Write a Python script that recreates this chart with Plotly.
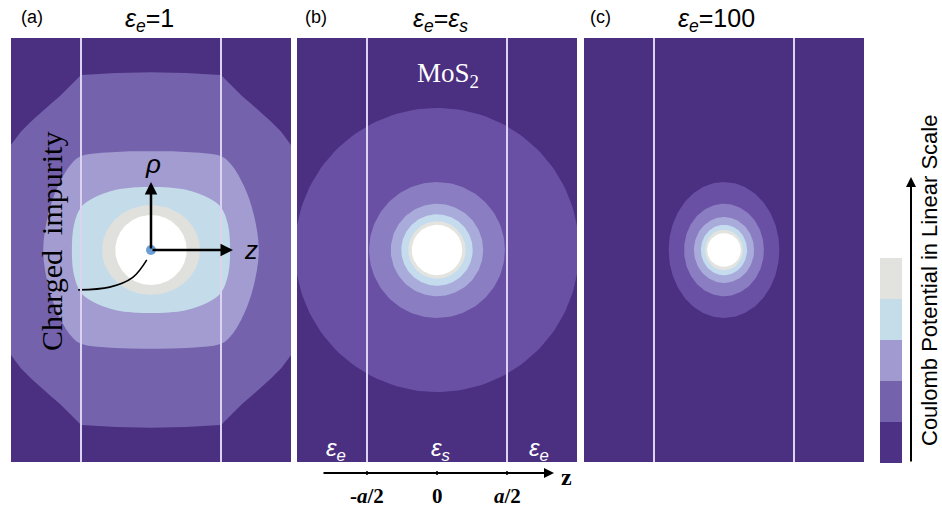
import numpy as np
import plotly.graph_objects as go

W, H = 942, 512
SANS = "Liberation Sans, Arial, sans-serif"
SERIF = "Liberation Serif, Times New Roman, serif"

# ---------------- colours ----------------
DARK = "#4b2f80"
LINE_COLOR = "#dcd3f0"
A_COLORS = ["#7462ad", "#a29cd0", "#c4dcea", "#e0e0dc", "#ffffff"]
B_COLORS = ["#6a50a4", "#8a7dc1", "#a9abdb", "#c4dcee", "#e3e3df", "#ffffff"]
C_COLORS = ["#6a50a4", "#8a7dc1", "#a9abdb", "#c4dcee", "#e3e3df", "#ffffff"]
CB_COLORS = ["#4d3184", "#7462ad", "#a09ad0", "#c5dde9", "#e2e2de"]  # bottom -> top

# ---------------- data (units of a/2) ----------------
# panel (a), eps_e = 1 : first-quadrant boundary of each potential level
A_L1_Z = [0.0, 0.5, 1.0, 1.07, 1.17, 1.30, 1.43, 1.57, 1.71, 1.86, 2.01, 2.14, 2.29, 2.43, 2.51]
A_L1_R = [2.54, 2.53, 2.50, 2.43, 2.33, 2.20, 2.09, 1.97, 1.84, 1.69, 1.49, 1.31, 1.07, 0.71, 0.0]
A_L2_Z = [0.0, 0.5, 1.0, 1.14, 1.33, 1.47, 1.54]
A_L2_R = [1.41, 1.40, 1.34, 1.23, 0.91, 0.50, 0.0]
A_L3_Z = [0.0, 0.5, 0.83, 1.0, 1.10, 1.13]
A_L3_R = [0.90, 0.86, 0.74, 0.61, 0.36, 0.0]
A_L4_RZ, A_L4_RR = 0.70, 0.64
A_L5_RZ, A_L5_RR = 0.51, 0.50

# panel (b), eps_e = eps_s : circular levels (radius)
B_RADII = [2.03, 0.97, 0.66, 0.51, 0.41, 0.36]
# panel (c), eps_e = 100 : elliptical levels (half-width z, half-height rho)
C_RZ = [0.79, 0.57, 0.43, 0.33, 0.27, 0.24]
C_RR = [0.97, 0.66, 0.47, 0.36, 0.29, 0.24]

SLAB = [-1, 1]            # -a/2, a/2
TICK_VALS = [-1, 0, 1]
TICK_TEXT = ["<b>-<i>a</i>/2</b>", "<b>0</b>", "<b><i>a</i>/2</b>"]

# leader line from the impurity to the label
LEAD_Z = [-0.06, -0.26, -0.59, -1.04]
LEAD_R = [-0.14, -0.39, -0.53, -0.57]

PANEL_LABELS = ["(a)", "(b)", "(c)"]
PANEL_TITLES = ["<i>ε<sub>e</sub></i>=1", "<i>ε<sub>e</sub></i>=<i>ε<sub>s</sub></i>", "<i>ε<sub>e</sub></i>=100"]

# ---------------- helpers ----------------
def mirror(zq, rq):
    zq, rq = list(zq), list(rq)
    z = zq + zq[::-1][1:] + [-v for v in zq][1:] + [-v for v in zq[::-1]][1:]
    r = rq + [-v for v in rq[::-1]][1:] + [-v for v in rq][1:] + rq[::-1][1:]
    return z, r

def ellipse(rz, rr, n=160):
    t = np.linspace(0, 2 * np.pi, n)
    return rz * np.cos(t), rr * np.sin(t)

def px(x):
    return x / W

def py(y):
    return 1 - y / H

fig = go.Figure()

def fill(x, y, color, xa, ya, spline=False):
    fig.add_trace(go.Scatter(
        x=x, y=y, mode="lines", fill="toself", fillcolor=color,
        line=dict(width=0, color=color, shape="spline" if spline else "linear", smoothing=1.0),
        hoverinfo="skip", showlegend=False, xaxis=xa, yaxis=ya))

# panel a
for (zq, rq), col, sp in zip([(A_L1_Z, A_L1_R), (A_L2_Z, A_L2_R), (A_L3_Z, A_L3_R)],
                             A_COLORS[:3], [False, True, True]):
    z, r = mirror(zq, rq)
    fill(z, r, col, "x", "y", spline=sp)
for (rz, rr), col in zip([(A_L4_RZ, A_L4_RR), (A_L5_RZ, A_L5_RR)], A_COLORS[3:]):
    z, r = ellipse(rz, rr)
    fill(z, r, col, "x", "y")

# panel b
for rad, col in zip(B_RADII, B_COLORS):
    z, r = ellipse(rad, rad)
    fill(z, r, col, "x2", "y2")

# panel c
for rz, rr, col in zip(C_RZ, C_RR, C_COLORS):
    z, r = ellipse(rz, rr)
    fill(z, r, col, "x3", "y3")

# leader line + impurity
fig.add_trace(go.Scatter(x=LEAD_Z, y=LEAD_R, mode="lines",
                         line=dict(color="black", width=1.6, shape="spline"),
                         hoverinfo="skip", showlegend=False, xaxis="x", yaxis="y"))
fig.add_trace(go.Scatter(x=[0], y=[0], mode="markers",
                         marker=dict(size=10, color="#6a9fd6", line=dict(width=0)),
                         hoverinfo="skip", showlegend=False, xaxis="x", yaxis="y"))

# ---------------- layout ----------------
XD = [(11, 291), (297, 577), (584, 864)]
Y_TOP, Y_BOT = 38, 462
XR = [-2.0, 2.0]
YR = [-(Y_BOT - Y_TOP) / 2 / 70, (Y_BOT - Y_TOP) / 2 / 70]

layout = dict(width=W, height=H, margin=dict(l=0, r=0, t=0, b=0),
              paper_bgcolor="white", plot_bgcolor=DARK, showlegend=False)
for i, (a, b) in enumerate(XD):
    sfx = "" if i == 0 else str(i + 1)
    layout["xaxis" + sfx] = dict(domain=[px(a), px(b)], range=XR, visible=False,
                                 fixedrange=True, anchor="y" + sfx)
    layout["yaxis" + sfx] = dict(domain=[py(Y_BOT), py(Y_TOP)], range=YR, visible=False,
                                 fixedrange=True, anchor="x" + sfx)
fig.update_layout(**layout)

shapes = []
for i in range(3):
    sfx = "" if i == 0 else str(i + 1)
    for s in SLAB:
        shapes.append(dict(type="line", xref="x" + sfx, yref="y" + sfx + " domain",
                           x0=s, x1=s, y0=0, y1=1, line=dict(color=LINE_COLOR, width=2)))
# colour bar boxes
cb_top, cb_bot = 258, 463
step = (cb_bot - cb_top) / len(CB_COLORS)
for k, col in enumerate(CB_COLORS):
    shapes.append(dict(type="rect", xref="paper", yref="paper",
                       x0=px(880), x1=px(902), y0=py(cb_bot - step * k), y1=py(cb_bot - step * (k + 1)),
                       fillcolor=col, line=dict(width=0)))
# ticks on the z axis under panel b
for v in TICK_VALS:
    shapes.append(dict(type="line", xref="x2", yref="paper", x0=v, x1=v,
                       y0=py(475), y1=py(471), line=dict(color="black", width=1.5)))
fig.update_layout(shapes=shapes)

ann = []

def text(t, x, y, size, family=SANS, color="black", xref="paper", yref="paper", angle=0):
    ann.append(dict(text=t, x=x, y=y, xref=xref, yref=yref, showarrow=False,
                    xanchor="center", yanchor="middle", textangle=angle,
                    font=dict(family=family, size=size, color=color)))

def arrow(x, y, ax, ay, width, xref="paper", yref="paper"):
    ann.append(dict(x=x, y=y, xref=xref, yref=yref, ax=ax, ay=ay, text="",
                    showarrow=True, arrowhead=2, arrowsize=1, arrowwidth=width, arrowcolor="black"))

centers = [32, 316, 600]
title_x = [149, 440, 716]
for lab, cx, ttl, tx in zip(PANEL_LABELS, centers, PANEL_TITLES, title_x):
    text(lab, px(cx), py(17), 18)
    text(ttl, px(tx), py(20), 25)

# MoS2 label
text("MoS<sub>2</sub>", 0.15, py(75), 27, family=SERIF, color="white", xref="x2")
# eps labels at the bottom of panel b
for xv, t in zip([-1.45, 0.05, 1.45], ["<i>ε<sub>e</sub></i>", "<i>ε<sub>s</sub></i>", "<i>ε<sub>e</sub></i>"]):
    text(t, xv, py(449), 24, color="white", xref="x2")
# z axis arrow under panel b
arrow(px(554), py(473), -232, 0, 2)
text("<b>z</b>", px(566), py(477), 24, family=SERIF)
for v, t in zip(TICK_VALS, TICK_TEXT):
    text(t, v, py(496), 21, family=SERIF, xref="x2")

# panel a arrows and labels
arrow(0, (250 - 182) / 70, 0, 68, 2.5, xref="x", yref="y")
arrow((233 - 151) / 70, 0, -82, 0, 2.5, xref="x", yref="y")
text("<i>ρ</i>", 0.03, (250 - 164) / 70, 26, xref="x", yref="y")
text("<i>z</i>", (251 - 151) / 70, 0, 26, xref="x", yref="y")
text("Charged  impurity", px(51), py(242), 30, family=SERIF, angle=-90)

# colour bar arrow + title
arrow(px(911), py(177), 0, 286, 2)
text("Coulomb Potential in Linear Scale", px(929), py(281), 22, angle=-90)
fig.update_layout(annotations=ann)

fig.write_html("out.html")
